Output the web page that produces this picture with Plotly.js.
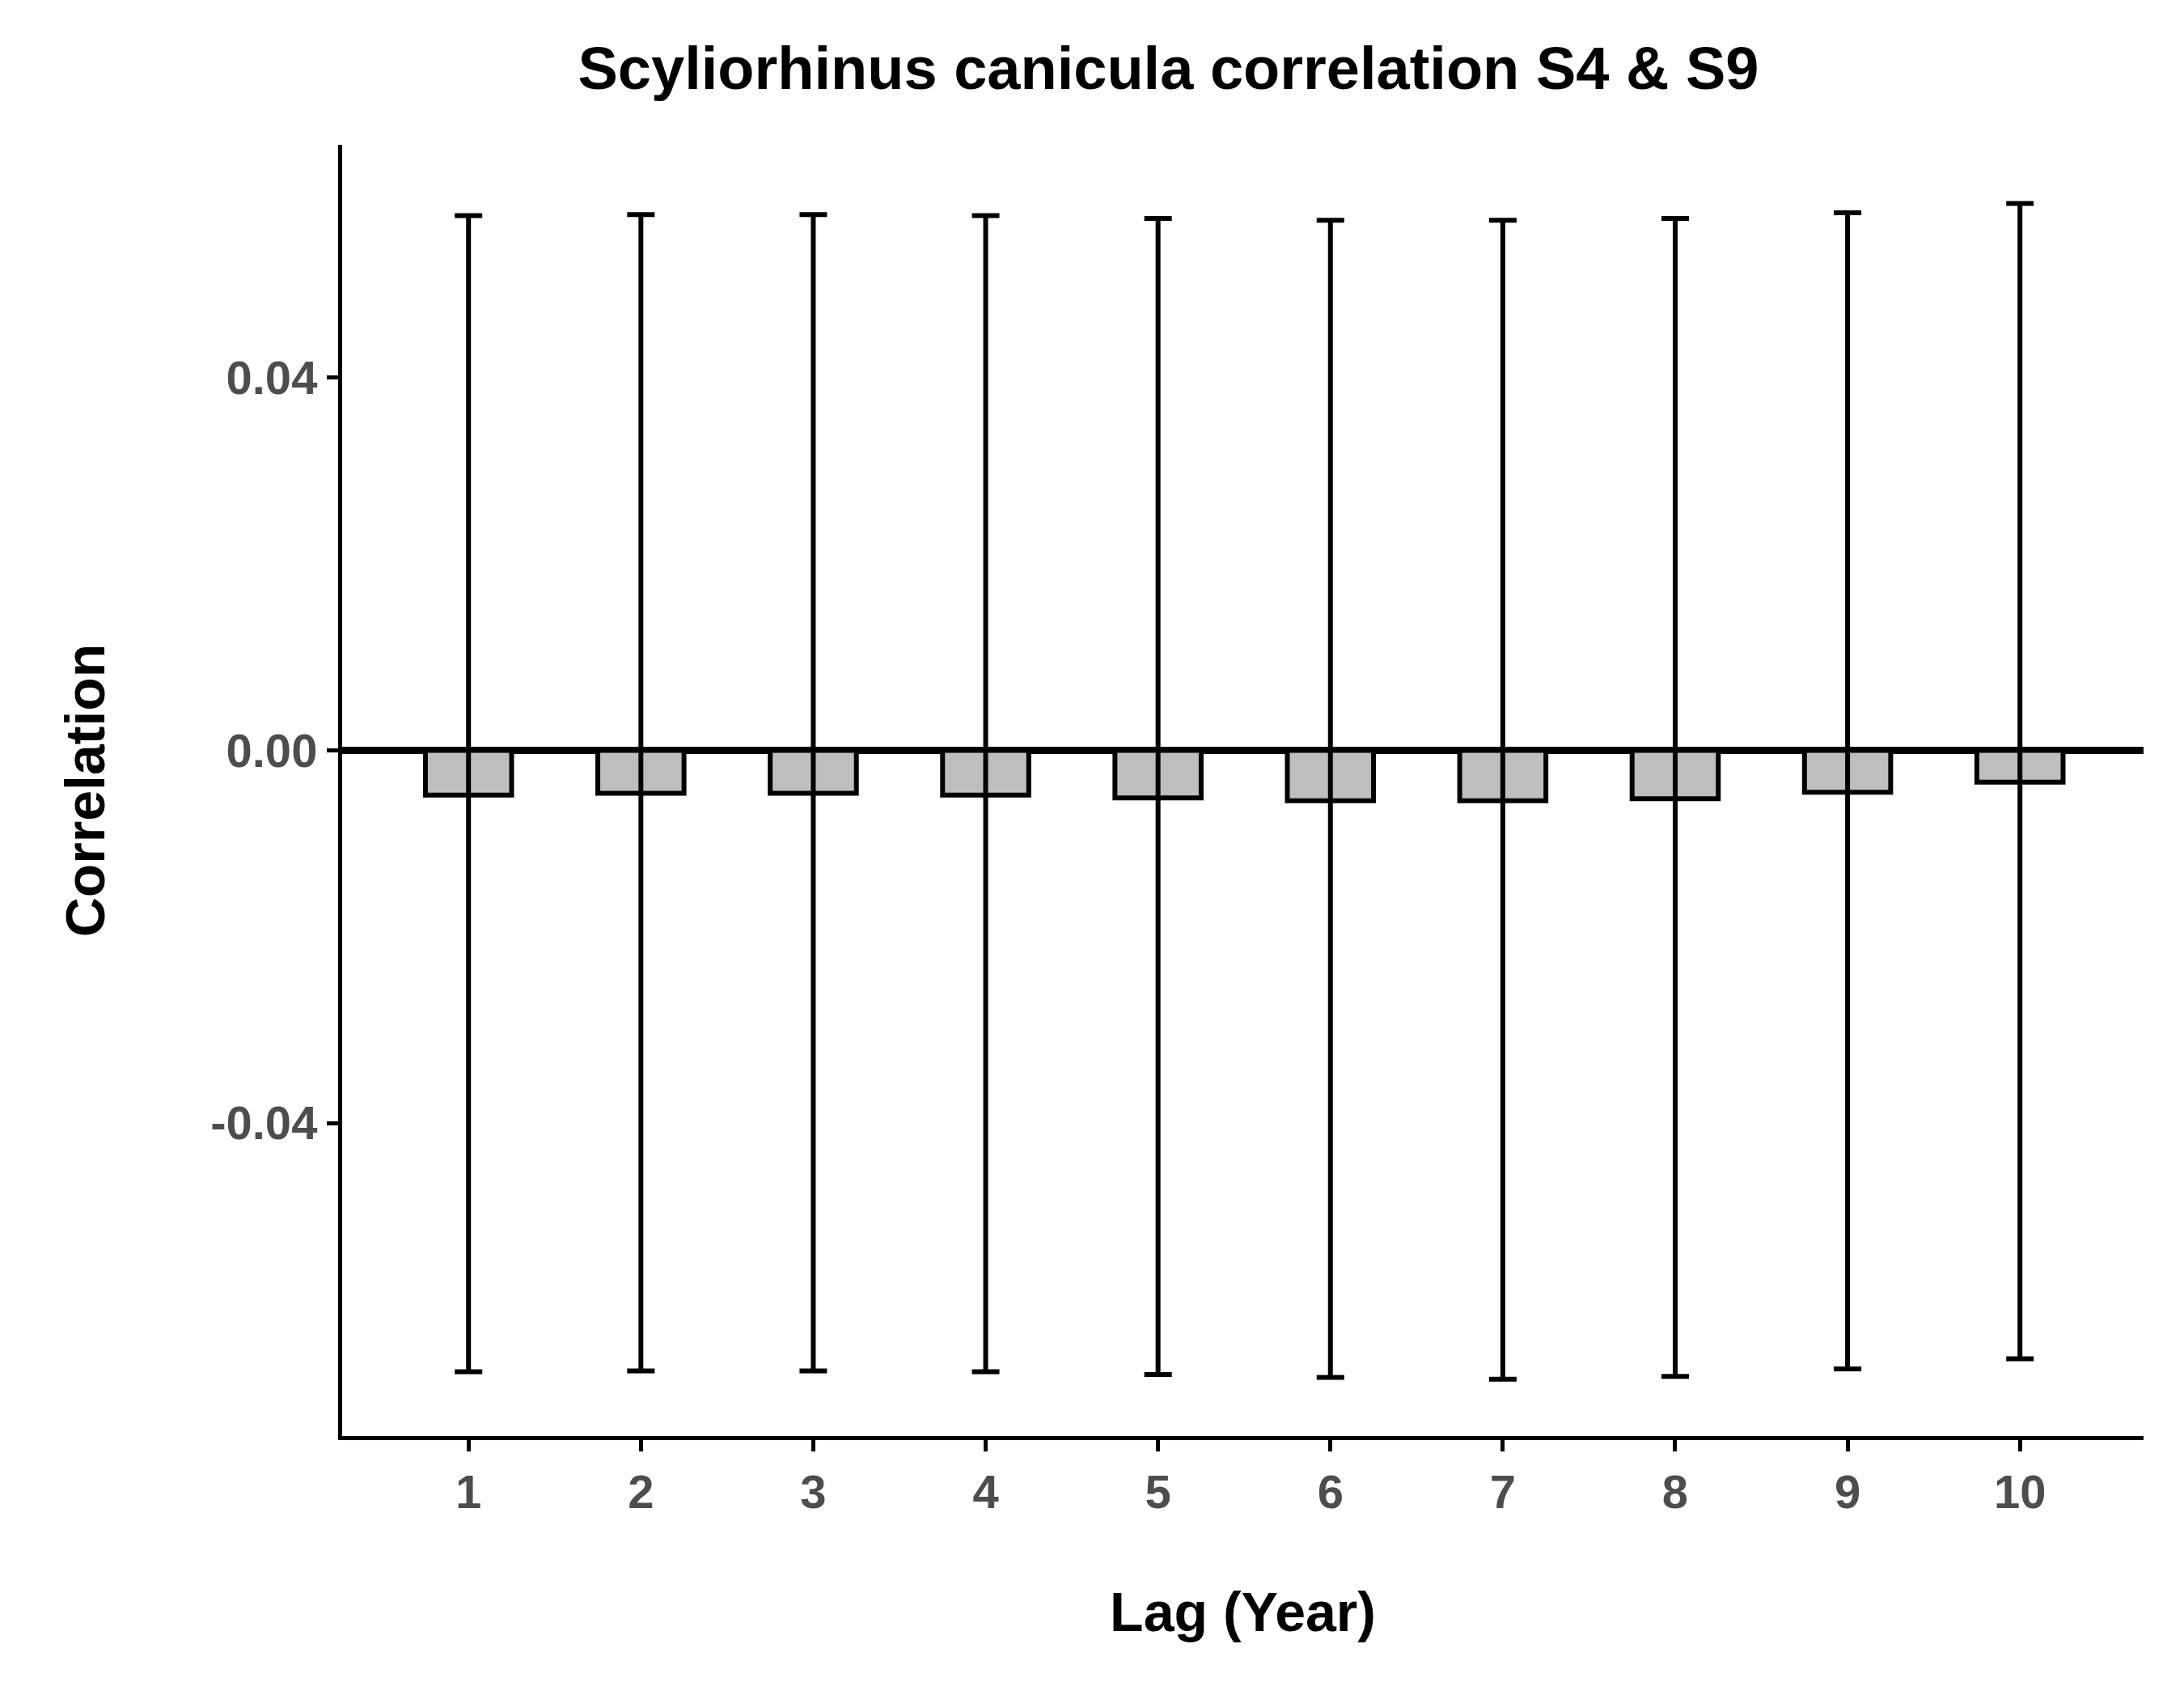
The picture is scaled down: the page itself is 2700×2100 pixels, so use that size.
<!DOCTYPE html>
<html><head><meta charset="utf-8">
<script src="https://cdn.plot.ly/plotly-3.0.1.min.js"></script>
<style>body{margin:0;background:#fff}</style></head>
<body><div id="c" style="width:2700px;height:2100px"></div>
<script>
const lags = [1,2,3,4,5,6,7,8,9,10];
const corr = [-0.0048,-0.0046,-0.0046,-0.0048,-0.0051,-0.0054,-0.0054,-0.0052,-0.0045,-0.0034];
const upper = [0.0574,0.0575,0.0575,0.0574,0.0571,0.0569,0.0569,0.0571,0.0577,0.0587];
const lower = [-0.0667,-0.0666,-0.0666,-0.0667,-0.0670,-0.0673,-0.0675,-0.0672,-0.0664,-0.0653];
const tickVals = [-0.04,0,0.04];
const tickText = ['-0.04','0.00','0.04'];

const trace = {
  type:'bar', x:lags, y:corr, width:0.5,
  marker:{color:'#bebebe', line:{color:'#000', width:6}},
  error_y:{type:'data', symmetric:false,
    array: upper.map((u,i)=>u-corr[i]),
    arrayminus: corr.map((c,i)=>c-lower[i]),
    color:'#000', thickness:6, width:17}
};
const ff = 'Liberation Sans, Arial, sans-serif';
const tf = {family:ff, size:58, color:'#4d4d4d', weight:'bold'};
const layout = {
  width:2700, height:2100, showlegend:false,
  paper_bgcolor:'#fff', plot_bgcolor:'#fff',
  margin:{l:423, r:50, t:179, b:325},
  title:{text:'<b>Scyliorhinus canicula correlation S4 & S9</b>', x:0.535, xanchor:'center',
    y:0.96, yanchor:'middle', yref:'container',
    font:{family:ff, size:74, color:'#000'}},
  xaxis:{range:[0.267,10.717], tickvals:lags, ticktext:lags.map(String),
    tickfont:tf, ticks:'outside', ticklen:14, tickwidth:5, tickcolor:'#000',
    showline:true, linecolor:'#000', linewidth:5, showgrid:false, zeroline:false,
    title:{text:'<b>Lag (Year)</b>', standoff:95, font:{family:ff, size:68, color:'#000'}}},
  yaxis:{range:[-0.0736,0.065], tickvals:tickVals, ticktext:tickText,
    tickfont:tf, ticks:'outside', ticklen:14, tickwidth:5, tickcolor:'#000',
    showline:true, linecolor:'#000', linewidth:5, showgrid:false,
    zeroline:true, zerolinecolor:'#000', zerolinewidth:9,
    title:{text:'<b>Correlation</b>', standoff:110, font:{family:ff, size:68, color:'#000'}}}
};
Plotly.newPlot('c',[trace],layout,{staticPlot:true});
</script></body></html>
